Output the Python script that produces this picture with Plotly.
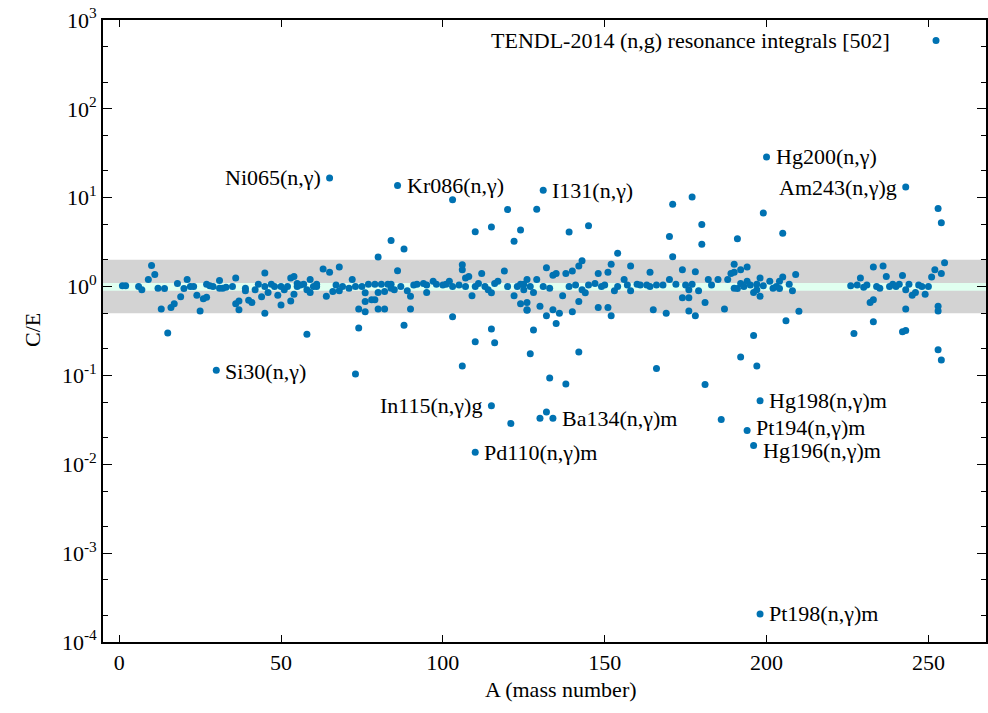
import math
import plotly.graph_objects as go

# ---- data ----
mass_number = [
    1, 2, 6, 7, 9, 10, 11, 12, 13, 14, 15, 16, 17, 18, 19, 20, 21, 22, 23, 24, 25, 26, 27, 27, 28, 29, 30,
    31, 31, 32, 33, 35, 36, 36, 37, 37, 39, 39, 40, 41, 42, 43, 44, 45, 45, 45, 46, 47, 48, 49, 50, 50,
    51, 52, 53, 54, 53, 54, 55, 55, 56, 57, 58, 58, 59, 59, 60, 61, 61,
    63, 64, 65, 65, 66, 67, 68, 68, 69, 71, 72, 73, 73, 74, 74, 75, 76, 76, 76, 77, 78, 79, 79, 80, 80, 80,
    81, 82, 82, 83, 84, 84, 84, 85, 86, 86, 87, 88, 88, 89, 90, 90, 91, 92, 94, 95, 95, 97, 98, 100, 101,
    102, 103, 103, 103, 105, 106, 106, 106, 107, 107, 108, 109, 110, 110, 110, 110, 111, 112, 113, 114,
    115, 115, 115, 115, 116, 116, 117, 119, 120, 120, 121, 122, 122, 123, 124, 124, 125, 126,
    124, 125, 126, 126, 126, 127, 127, 128, 128, 129, 129, 130, 130, 131, 131, 132, 132, 132, 133, 133,
    134, 134, 134, 135, 135, 136, 137, 138, 138, 139, 139, 140, 140, 141, 142, 142, 142, 143, 143, 144,
    145, 145, 147, 148, 148, 149, 150, 151, 151, 152, 152, 153, 154, 154, 156, 157, 158, 158, 160, 161,
    163, 164, 164, 165, 166, 166, 168, 169, 170, 170, 171, 171, 172, 174, 174, 175, 176, 176, 176, 177,
    177, 178, 178, 179, 180, 180, 181, 181, 182, 183, 185, 186, 187, 188, 189, 190,
    190, 190, 191, 191, 192, 192, 192, 193, 194, 194, 194, 195, 196, 196, 196, 197, 197, 197, 198, 198,
    198, 198, 199, 199, 200, 201, 202, 203, 204, 204, 205, 205, 206, 207, 208, 209, 210,
    226, 227, 228, 229, 230, 231, 232, 233, 233, 233, 234, 235, 236, 237, 238, 239, 240, 241, 242, 242,
    243, 243, 243, 243, 244, 245, 246, 247, 248, 249, 250, 251, 252, 253, 253, 253, 253, 254, 254, 254, 255,
]
c_over_e = [
    1.02, 1.02, 1.0, 0.92, 1.2, 1.73, 1.37, 0.96, 0.56, 0.95, 0.3, 0.58, 0.64, 1.08, 0.77, 0.95, 1.2, 1.0, 1.0, 0.8, 0.53, 0.73, 0.76, 1.06, 1.02, 1.0, 0.114,
    1.17, 0.96, 0.96, 0.98, 1.0, 1.25, 0.64, 0.69, 0.55, 0.9, 0.96, 0.7, 0.66, 0.92, 1.06, 0.77, 1.42, 0.5, 1.0, 0.86, 1.06, 1.0, 0.8, 0.62, 1.0,
    0.92, 1.0, 1.25, 1.3, 0.69, 0.82, 1.08, 1.0, 1.04, 1.06, 0.29, 0.92, 1.2, 0.86, 1.0, 1.06, 1.0,
    1.58, 0.78, 1.45, 16.7, 0.88, 1.04, 1.66, 0.9, 1.0, 0.96, 1.2, 1.0, 0.104, 0.342, 0.56, 1.0, 0.85, 0.68, 0.52, 1.06, 0.71, 1.06, 0.71, 2.15, 0.86, 0.56,
    1.06, 0.88, 0.56, 1.06, 3.31, 1.06, 0.96, 0.92, 13.7, 1.51, 1.0, 2.65, 0.366, 0.9, 0.78, 0.56, 1.04, 1.06, 1.08, 0.86, 1.04, 1.15, 1.06, 1.04, 1.06,
    1.15, 0.458, 1.0, 9.5, 1.04, 1.76, 1.55, 0.128, 1.0, 1.25, 1.3, 0.79, 1.0, 0.24, 4.14, 0.0137, 1.08, 1.4, 1.0, 0.92,
    0.333, 4.69, 0.0456, 0.85, 0.233, 1.08, 1.15, 1.5, 1.0, 7.35, 0.0288, 3.23, 0.79, 1.0, 4.34, 0.64, 1.06, 0.55,
    1.06, 0.92, 0.66, 0.54, 1.2, 1.0, 0.175, 0.325, 0.86, 1.2, 7.4, 0.6, 0.033, 12.1, 1.0, 1.63, 0.47, 0.0387, 0.96, 0.0935,
    0.55, 1.34, 0.033, 1.4, 0.385, 0.5, 0.79, 1.4, 0.08, 1.0, 4.12, 0.52, 1.5, 1.04, 1.7, 0.68, 0.183, 1.95, 0.92, 0.85,
    1.04, 4.85, 1.08, 1.4, 0.58, 1.0, 1.04, 1.45, 0.58, 1.78, 0.47, 0.9, 2.37, 1.0, 1.2, 1.04, 1.7, 0.9, 1.06, 1.04,
    1.04, 1.45, 1.0, 0.55, 0.12, 1.04, 1.04, 0.5, 1.2, 3.65, 2.17, 8.43, 1.06, 1.55, 0.75, 1.04, 0.92, 0.75, 0.53, 1.06,
    10.2, 1.47, 0.47, 0.9, 2.99, 4.98, 0.66, 0.079, 1.2, 1.04, 1.2, 0.032, 0.56, 1.2, 1.4, 0.96,
    1.78, 1.45, 0.95, 3.46, 1.55, 1.08, 0.161, 1.0, 1.66, 1.15, 0.024, 1.04, 0.86, 0.282, 0.0163, 1.06, 0.92, 0.128, 1.25, 0.78,
    0.0519, 0.000207, 1.02, 6.74, 28.8, 1.15, 0.96, 1.0, 0.95, 1.15, 1.28, 3.97, 0.413, 1.06, 0.9, 1.37, 0.526,
    1.02, 0.297, 1.04, 1.25, 0.98, 1.04, 0.66, 0.71, 1.66, 0.402, 1.0, 0.96, 1.7, 1.3, 1.0, 1.06, 1.0, 1.06, 1.33, 0.31,
    0.32, 0.56, 0.92, 13.2, 1.06, 0.8, 0.86, 1.04, 1.0, 0.82, 1.0, 1.28, 1.55, 0.6, 0.53, 0.195, 7.54, 1.4, 0.149, 5.24, 1.85,
]

label_names = ["Ni065(n,γ)", "Kr086(n,γ)", "I131(n,γ)", "Hg200(n,γ)", "Am243(n,γ)g", "Si30(n,γ)",
               "In115(n,γ)g", "Ba134(n,γ)m", "Pd110(n,γ)m", "Hg198(n,γ)m", "Pt194(n,γ)m",
               "Hg196(n,γ)m", "Pt198(n,γ)m"]
label_mass = [65, 86, 131, 200, 243, 30, 115, 134, 110, 198, 194, 196, 198]
label_ce = [16.7, 13.7, 12.1, 28.8, 13.2, 0.114, 0.0456, 0.033, 0.0137, 0.0519, 0.024, 0.0163, 0.000207]
label_side = ["left", "right", "right", "right", "left", "right", "left", "right", "right", "right", "right",
              "right", "right"]
label_dy = [0, 0, 0, 0, 0, -1, 0, 0, 0, 0, 3, -5, 0]

legend_text = "TENDL-2014 (n,g) resonance integrals [502]"
y_tick_exponents = [-4, -3, -2, -1, 0, 1, 2, 3]
x_ticks = [0, 50, 100, 150, 200, 250]

# ---- style ----
BLUE = "#0072b2"
FONT = "Liberation Serif, Times New Roman, serif"
FS = 22

fig = go.Figure()

# bands
fig.add_shape(type="rect", xref="paper", yref="y", x0=0, x1=1, y0=0.5, y1=2.0,
              fillcolor="#d3d3d3", line_width=0, layer="below")
fig.add_shape(type="rect", xref="paper", yref="y", x0=0, x1=1, y0=0.9, y1=1.1,
              fillcolor="#e0fff0", line_width=0, layer="below")

fig.add_trace(go.Scatter(
    x=mass_number, y=c_over_e, mode="markers",
    marker=dict(color=BLUE, size=7, line_width=0),
    showlegend=False, hoverinfo="x+y",
))

for name, a, ce, side, dy in zip(label_names, label_mass, label_ce, label_side, label_dy):
    fig.add_annotation(
        x=a, y=math.log10(ce), xref="x", yref="y", text=name, showarrow=False,
        xanchor="left" if side == "right" else "right", yanchor="middle",
        xshift=7 if side == "right" else -7, yshift=dy,
        font=dict(family=FONT, size=FS, color="black"),
    )

# key (legend) drawn gnuplot-style: text then sample point
fig.add_annotation(x=0.894, y=0.967, xref="paper", yref="paper", text=legend_text,
                   showarrow=False, xanchor="right", yanchor="middle",
                   font=dict(family=FONT, size=FS, color="black"))
fig.add_shape(type="circle", xref="paper", yref="paper", xsizemode="pixel", ysizemode="pixel",
              xanchor=0.9434, yanchor=0.967, x0=-3.5, x1=3.5, y0=-3.5, y1=3.5,
              fillcolor=BLUE, line_width=0)

# axis titles
fig.add_annotation(x=-0.079, y=0.502, xref="paper", yref="paper", text="C/E", textangle=-90,
                   xanchor="center", yanchor="middle",
                   showarrow=False, font=dict(family=FONT, size=FS, color="black"))
fig.add_annotation(x=0.519, y=-0.077, xref="paper", yref="paper", text="A (mass number)",
                   xanchor="center", yanchor="middle",
                   showarrow=False, font=dict(family=FONT, size=FS, color="black"))

fig.update_xaxes(
    range=[-5, 267.8], tickvals=x_ticks, ticks="inside", ticklen=7, tickwidth=1.3,
    tickcolor="black", showline=True, linecolor="black", linewidth=1.6, mirror="ticks",
    showgrid=False, zeroline=False, tickfont=dict(family=FONT, size=FS, color="black"),
)
fig.update_yaxes(
    type="log", range=[-4, 3],
    tickvals=[10.0 ** e for e in y_tick_exponents],
    ticktext=[f"10<sup>{e}</sup>" for e in y_tick_exponents],
    ticks="inside", ticklen=9, tickwidth=1.3, tickcolor="black",
    minor=dict(dtick="D2", ticks="inside", ticklen=5, tickwidth=1.1, tickcolor="black"),
    showline=True, linecolor="black", linewidth=1.6, mirror="ticks",
    showgrid=False, zeroline=False, tickfont=dict(family=FONT, size=FS, color="black"),
)

fig.update_layout(
    width=988, height=713,
    margin=dict(l=103, r=0, t=20, b=71),
    paper_bgcolor="white", plot_bgcolor="white",
    showlegend=False,
)

fig.write_html("out.html")
